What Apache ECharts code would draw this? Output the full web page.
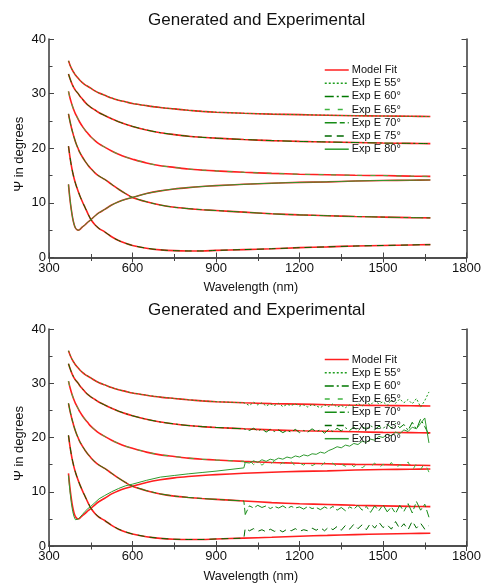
<!DOCTYPE html>
<html>
<head>
<meta charset="utf-8">
<script src="https://cdn.jsdelivr.net/npm/echarts@6/dist/echarts.min.js"></script>
<style>
html,body{margin:0;padding:0;background:#fff;}
#chart{width:484px;height:584px;}
</style>
</head>
<body>
<div id="chart"></div>
<script>
// ---------- data ----------
const TITLE = "Generated and Experimental";
const X_NAME = "Wavelength (nm)";
const Y_NAME = "\u03A8 in degrees";
const LEGEND_NAMES = ["Model Fit", "Exp E 55\u00B0", "Exp E 60\u00B0", "Exp E 65\u00B0", "Exp E 70\u00B0", "Exp E 75\u00B0", "Exp E 80\u00B0"];
const X_TICKS = [300, 600, 900, 1200, 1500, 1800];
const Y_TICKS = [0, 10, 20, 30, 40];

// wavelength grid of the smooth curves (nm)
const W = [370, 375, 380, 385, 390, 395, 400, 405, 410, 420, 430, 440, 450, 465, 480, 500, 525, 550, 575, 600, 650, 700, 750, 800, 850, 900, 1000, 1100, 1200, 1300, 1400, 1500, 1600, 1670];

// model fit curves (degrees)
const M1 = [36.0, 35.3, 34.7, 34.2, 33.8, 33.4, 33.1, 32.8, 32.5, 32.0, 31.6, 31.3, 31.0, 30.5, 30.1, 29.7, 29.2, 28.8, 28.5, 28.2, 27.8, 27.45, 27.2, 26.95, 26.75, 26.6, 26.4, 26.25, 26.15, 26.05, 25.95, 25.9, 25.85, 25.8];
const M2 = [33.6, 32.8, 32.1, 31.5, 31.0, 30.6, 30.3, 30.0, 29.6, 29.0, 28.4, 27.9, 27.5, 27.0, 26.5, 26.0, 25.4, 24.85, 24.4, 24.0, 23.35, 22.85, 22.5, 22.2, 22.0, 21.85, 21.6, 21.4, 21.25, 21.15, 21.05, 20.95, 20.9, 20.85];
const M3 = [30.4, 29.3, 28.4, 27.6, 26.9, 26.3, 25.8, 25.3, 24.8, 24.0, 23.3, 22.7, 22.1, 21.4, 20.8, 20.2, 19.5, 18.9, 18.4, 18.0, 17.3, 16.8, 16.5, 16.2, 16.0, 15.85, 15.6, 15.4, 15.25, 15.15, 15.05, 15.0, 14.9, 14.85];
const M4 = [26.3, 25.0, 23.9, 22.9, 22.0, 21.2, 20.5, 19.9, 19.3, 18.4, 17.6, 16.9, 16.3, 15.5, 14.9, 14.3, 13.4, 12.5, 11.7, 11.0, 10.2, 9.6, 9.2, 8.95, 8.75, 8.6, 8.3, 8.0, 7.8, 7.65, 7.5, 7.4, 7.3, 7.25];
const M5 = [20.4, 18.5, 16.9, 15.6, 14.5, 13.6, 12.8, 12.1, 11.4, 10.2, 9.1, 8.0, 7.0, 6.0, 5.3, 4.7, 3.8, 3.1, 2.6, 2.2, 1.7, 1.4, 1.25, 1.2, 1.2, 1.3, 1.45, 1.6, 1.8, 1.95, 2.1, 2.2, 2.3, 2.35];
const M6 = [13.4, 10.8, 8.8, 7.2, 6.1, 5.4, 5.1, 5.0, 5.1, 5.6, 6.0, 6.5, 6.9, 7.6, 8.2, 8.8, 9.6, 10.2, 10.65, 11.0, 11.7, 12.2, 12.55, 12.8, 13.0, 13.15, 13.4, 13.6, 13.75, 13.85, 14.0, 14.1, 14.15, 14.2];

// lower chart: experimental curve with the dip, below 1000 nm (on W up to 1000)
const E6_LOW = [13.0, 10.2, 8.0, 6.4, 5.4, 4.85, 4.8, 4.95, 5.2, 5.8, 6.4, 6.9, 7.3, 8.0, 8.7, 9.3, 10.0, 10.6, 11.1, 11.4, 12.1, 12.7, 13.0, 13.3, 13.55, 13.8, 14.4];

// lower chart: noisy experimental part above 1000 nm
const WN = [1005, 1020, 1035, 1050, 1065, 1080, 1095, 1110, 1125, 1140, 1155, 1170, 1185, 1200, 1215, 1230, 1245, 1260, 1275, 1290, 1305, 1320, 1335, 1350, 1365, 1380, 1395, 1410, 1425, 1440, 1455, 1470, 1485, 1500, 1515, 1530, 1545, 1560, 1575, 1590, 1605, 1620, 1635, 1650, 1665];
const N1 = [26.3, 25.9, 26.5, 26.0, 26.4, 25.8, 26.2, 25.9, 26.3, 25.7, 26.1, 25.9, 26.2, 25.8, 26.0, 25.6, 26.1, 25.8, 25.5, 26.0, 25.7, 26.2, 25.6, 25.9, 25.5, 26.0, 25.7, 26.3, 25.8, 26.5, 26.0, 26.8, 26.2, 26.6, 25.9, 26.9, 26.3, 27.1, 26.4, 27.0, 26.2, 27.2, 25.6, 26.8, 28.4];
const N2 = [21.8, 21.3, 21.7, 21.2, 21.6, 21.0, 21.5, 21.1, 21.4, 20.9, 21.3, 21.0, 21.5, 20.9, 21.3, 21.0, 21.6, 21.1, 21.4, 20.8, 21.5, 21.1, 21.7, 21.2, 21.8, 21.3, 21.9, 21.2, 22.0, 21.5, 22.3, 21.4, 22.1, 21.6, 22.5, 21.7, 22.6, 21.8, 22.4, 21.3, 22.8, 21.5, 23.4, 22.0, 20.5];
const N3 = [15.2, 15.8, 15.0, 15.6, 14.9, 15.5, 15.1, 15.7, 14.8, 15.4, 15.0, 15.6, 14.7, 15.3, 14.9, 15.5, 14.8, 15.2, 14.6, 15.4, 14.9, 15.3, 14.5, 15.1, 14.7, 15.4, 14.6, 15.2, 14.4, 15.0, 14.6, 15.3, 14.3, 15.1, 14.5, 15.4, 14.2, 15.0, 14.6, 15.5, 13.9, 15.2, 14.1, 15.3, 13.6];
const N4 = [5.8, 7.4, 7.0, 7.5, 7.1, 7.4, 6.9, 7.3, 7.0, 7.4, 6.9, 7.3, 7.0, 7.2, 6.8, 7.3, 6.9, 7.1, 6.7, 7.2, 6.8, 7.3, 6.6, 7.1, 6.5, 7.2, 6.8, 7.5, 6.6, 7.3, 6.2, 7.4, 6.5, 7.6, 6.3, 7.2, 6.0, 7.5, 6.4, 7.8, 6.1, 8.2, 6.6, 7.7, 5.3];
const N5 = [3.3, 2.8, 3.2, 2.7, 3.0, 2.6, 3.1, 2.7, 3.0, 2.6, 3.1, 2.8, 3.2, 2.7, 3.0, 2.8, 3.3, 2.9, 3.4, 2.8, 3.5, 3.0, 3.6, 2.9, 3.8, 3.1, 4.0, 3.2, 3.9, 3.0, 4.2, 3.3, 4.4, 3.4, 3.9, 3.1, 4.5, 3.2, 4.1, 3.0, 4.6, 3.3, 4.2, 3.1, 3.8];
const N6 = [15.4, 15.3, 15.7, 15.4, 15.9, 15.6, 16.0, 15.8, 16.2, 16.0, 16.4, 16.2, 16.6, 16.4, 16.8, 16.6, 17.0, 16.9, 17.3, 17.1, 17.6, 17.9, 18.3, 18.1, 18.6, 18.4, 18.9, 18.7, 19.3, 19.1, 19.7, 19.5, 20.2, 20.0, 20.6, 20.3, 21.0, 20.7, 21.4, 21.1, 21.9, 21.6, 22.6, 23.6, 19.0];

// ---------- styles ----------
const TXT = "'Liberation Sans', Arial, Helvetica, sans-serif";
const RED = '#ff1f1f';
const EXP_STYLE = [
  { color: '#1e9e1e', type: [2, 2] },          // 55 dotted
  { color: '#007800', type: [9, 3, 2, 3] },    // 60 dash-dot
  { color: '#40b440', type: [5, 8] },          // 65 sparse dash
  { color: '#168c16', type: [12, 3, 5, 3] },   // 70 long-short
  { color: '#006a00', type: [7, 5] },          // 75 dashed
  { color: '#2f9a2f', type: 'solid' }          // 80 solid
];
const MODELS = [M1, M2, M3, M4, M5, M6];
const NOISE = [N1, N2, N3, N4, N5, N6];

function pairs(xs, ys) { return xs.map((x, i) => [x, ys[i]]); }
const nLow = W.filter(w => w <= 1000).length;
const WLOW = W.slice(0, nLow);

const GRIDS = [{ top: 39, height: 218.5 }, { top: 329, height: 219 }];
const TITLE_TOP = [6.5, 296.5];
const LEGEND_TOP = [64.5, 354];

const xAxes = [], yAxes = [], series = [], titles = [], legends = [];
GRIDS.forEach((g, gi) => {
  const frameLine = { show: true, lineStyle: { color: '#444', width: 1.6 } };
  const tick = { show: true, inside: true, length: 5, lineStyle: { color: '#444', width: 1 } };
  const minor = { show: true, splitNumber: 2, length: 3.5, lineStyle: { color: '#444', width: 1 } };
  xAxes.push({
    gridIndex: gi, type: 'value', position: 'bottom', min: X_TICKS[0], max: X_TICKS[X_TICKS.length - 1], interval: X_TICKS[1] - X_TICKS[0],
    axisLine: frameLine, axisTick: tick, minorTick: minor, splitLine: { show: false },
    axisLabel: { margin: 4, color: '#111', fontSize: 13, fontFamily: TXT, formatter: v => String(v) },
    name: X_NAME, nameLocation: 'middle', nameGap: 24,
    nameTextStyle: { color: '#111', fontSize: 12.5, fontFamily: TXT, padding: [0, 14, 0, 0] }
  });
  xAxes.push({
    gridIndex: gi, type: 'value', position: 'top', min: X_TICKS[0], max: X_TICKS[X_TICKS.length - 1], interval: X_TICKS[1] - X_TICKS[0],
    axisLine: frameLine, axisTick: tick, minorTick: minor, splitLine: { show: false }, axisLabel: { show: false }
  });
  yAxes.push({
    gridIndex: gi, type: 'value', position: 'left', min: Y_TICKS[0], max: Y_TICKS[Y_TICKS.length - 1], interval: Y_TICKS[1] - Y_TICKS[0],
    axisLine: frameLine, axisTick: tick, minorTick: minor, splitLine: { show: false },
    axisLabel: { margin: 3, color: '#111', fontSize: 13, fontFamily: TXT },
    name: Y_NAME, nameLocation: 'middle', nameGap: 23, nameMoveOverlap: false,
    nameTextStyle: { color: '#111', fontSize: 13, fontFamily: TXT, padding: [0, 12, 0, 0] }
  });
  yAxes.push({
    gridIndex: gi, type: 'value', position: 'right', min: Y_TICKS[0], max: Y_TICKS[Y_TICKS.length - 1], interval: Y_TICKS[1] - Y_TICKS[0],
    axisLine: frameLine, axisTick: tick, minorTick: minor, splitLine: { show: false }, axisLabel: { show: false }
  });
  titles.push({
    text: TITLE, left: 143, top: TITLE_TOP[gi],
    textStyle: { fontSize: 17, fontWeight: 'normal', color: '#111', fontFamily: TXT }
  });
  legends.push({
    data: LEGEND_NAMES, orient: 'vertical', left: 324, top: LEGEND_TOP[gi], padding: 0,
    itemWidth: 24, itemHeight: 11, itemGap: 2.2, selectedMode: false,
    itemStyle: { opacity: 0 },
    lineStyle: { width: 1.5 },
    textStyle: { fontSize: 11, color: '#111', fontFamily: TXT, padding: [0, 0, 0, -2] }
  });
  const xi = gi * 2, yi = gi * 2;
  MODELS.forEach((m) => {
    series.push({
      name: LEGEND_NAMES[0], type: 'line', xAxisIndex: xi, yAxisIndex: yi, showSymbol: false, symbol: 'none',
      smooth: 0.3, lineStyle: { color: RED, width: 1.6 }, itemStyle: { color: RED }, z: 2,
      data: pairs(W, m)
    });
  });
  MODELS.forEach((m, k) => {
    let data;
    if (gi === 0) {
      data = pairs(W, m);
    } else {
      const low = k === 5 ? E6_LOW : m.slice(0, nLow);
      data = pairs(WLOW, low).concat(pairs(WN, NOISE[k]));
    }
    series.push({
      name: LEGEND_NAMES[k + 1], type: 'line', xAxisIndex: xi, yAxisIndex: yi, showSymbol: false, symbol: 'none',
      smooth: gi === 0 ? 0.3 : false,
      lineStyle: { color: EXP_STYLE[k].color, width: 1, type: EXP_STYLE[k].type },
      itemStyle: { color: EXP_STYLE[k].color }, z: 3,
      data: data
    });
  });
});

const chart = echarts.init(document.getElementById('chart'), null, { renderer: 'canvas' });
chart.setOption({
  animation: false,
  backgroundColor: '#fff',
  title: titles,
  legend: legends,
  grid: GRIDS.map(g => ({ left: 49, width: 420, top: g.top, height: g.height, containLabel: false })),
  xAxis: xAxes,
  yAxis: yAxes,
  series: series
});
</script>
</body>
</html>
